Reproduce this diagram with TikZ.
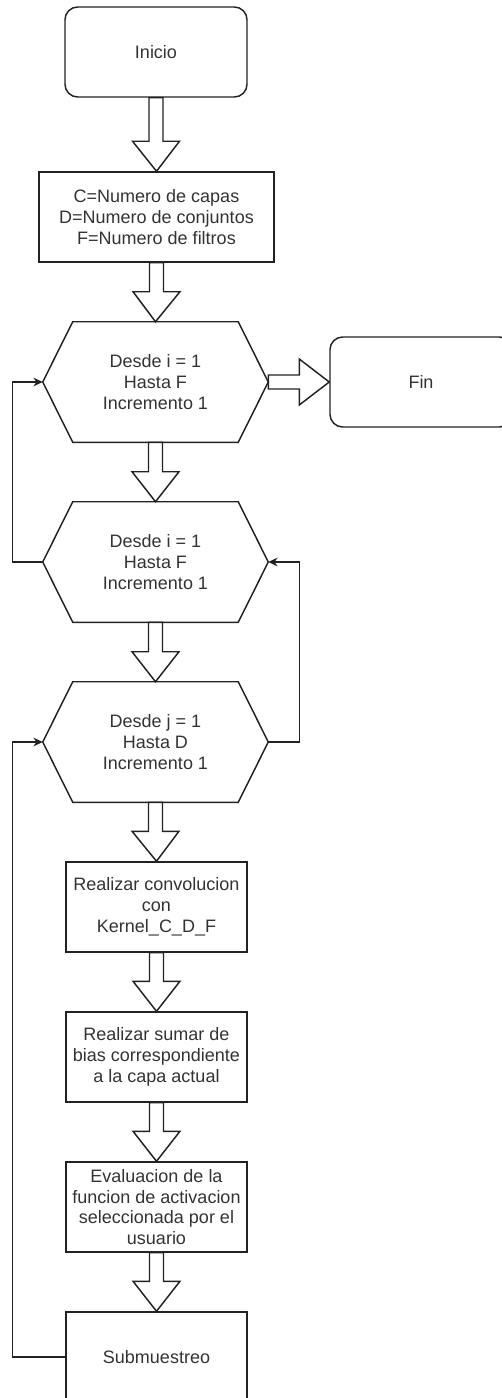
\documentclass[tikz,border=0pt]{standalone}
\usepackage{fontspec}
\setmainfont{Liberation Sans}
\usetikzlibrary{calc,arrows.meta}

\definecolor{ink}{HTML}{222222}
\definecolor{txt}{HTML}{333333}

% block arrow pointing down from the bottom of #1 to the top of #2
\newcommand{\blockdown}[2]{%
  \draw[blockarrow] let \p1=(#1.south), \p2=(#2.north) in
    (\x1-5.25pt,\y1) -- (\x1-5.25pt,\y2+22.5pt) -- (\x1-17.6pt,\y2+22.5pt)
    -- (\x2,\y2) -- (\x1+17.6pt,\y2+22.5pt) -- (\x1+5.25pt,\y2+22.5pt)
    -- (\x1+5.25pt,\y1) -- cycle;}
% block arrow pointing right from the east side of #1 to the west side of #2
\newcommand{\blockright}[2]{%
  \draw[blockarrow] let \p1=(#1.east), \p2=(#2.west) in
    (\x1,\y1+5.25pt) -- (\x2-22.5pt,\y1+5.25pt) -- (\x2-22.5pt,\y1+17.25pt)
    -- (\x2,\y2) -- (\x2-22.5pt,\y1-17.25pt) -- (\x2-22.5pt,\y1-5.25pt)
    -- (\x1,\y1-5.25pt) -- cycle;}
% hexagonal outline of a loop node
\newcommand{\hexoutline}[1]{%
  \draw[shapeline] ($(#1.north west)+(30,0)$) -- ($(#1.north east)+(-30,0)$)
    -- (#1.east) -- ($(#1.south east)+(-30,0)$) -- ($(#1.south west)+(30,0)$)
    -- (#1.west) -- cycle;}

\begin{document}
\begin{tikzpicture}[x=0.75pt,y=-0.75pt,
  shapeline/.style={draw=ink,line width=1.1pt,line join=miter},
  blockarrow/.style={draw=ink,fill=white,line width=1.1pt,line join=miter},
  label/.style={text=txt,font=\fontsize{13.5pt}{15.6pt}\selectfont,align=center,inner sep=0pt},
  terminal/.style={label,shapeline,rounded corners=9.5pt,minimum width=136.5pt,minimum height=67.5pt},
  process/.style={label,shapeline,minimum width=135.75pt,minimum height=67.5pt},
  loopnode/.style={label,minimum width=168.75pt,minimum height=90pt},
  backlink/.style={draw=ink,line width=1.1pt,-{Stealth[length=7pt,width=6.5pt]}}]

\useasboundingbox (0,0) rectangle (502,1398);

\node[terminal] (inicio) at (156,52) {Inicio};
\node[process,minimum width=176.25pt] (datos) at (156.5,217)
  {C=Numero de capas\\D=Numero de conjuntos\\F=Numero de filtros};
\node[loopnode] (h1) at (155.5,382) {Desde i = 1\\Hasta F\\Incremento 1};
\node[terminal] (fin) at (421,382) {Fin};
\node[loopnode] (h2) at (155.5,562) {Desde i = 1\\Hasta F\\Incremento 1};
\node[loopnode] (h3) at (155.5,742) {Desde j = 1\\Hasta D\\Incremento 1};
\node[process] (conv) at (156.5,907) {Realizar convolucion\\con\\Kernel\_C\_D\_F};
\node[process] (bias) at (156.5,1057) {Realizar sumar de\\bias correspondiente\\a la capa actual};
\node[process] (eval) at (156.5,1207)
  {Evaluacion de la\\funcion de activacion\\seleccionada por el\\usuario};
\node[process] (sub) at (156.5,1357) {Submuestreo};

\hexoutline{h1}
\hexoutline{h2}
\hexoutline{h3}

\blockdown{inicio}{datos}
\blockdown{datos}{h1}
\blockdown{h1}{h2}
\blockdown{h2}{h3}
\blockdown{h3}{conv}
\blockdown{conv}{bias}
\blockdown{bias}{eval}
\blockdown{eval}{sub}
\blockright{h1}{fin}

\draw[backlink] (h2.west) -- ++(-30,0) |- (h1.west);
\draw[backlink] (h3.east) -- ++(31,0) |- (h2.east);
\draw[backlink] (sub.west) -- ++(-53,0) |- (h3.west);
\end{tikzpicture}
\end{document}
